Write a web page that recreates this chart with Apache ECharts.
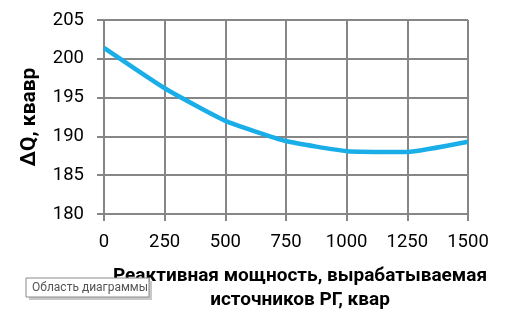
<!DOCTYPE html>
<html><head><meta charset="utf-8">
<script src="https://cdn.jsdelivr.net/npm/echarts@6/dist/echarts.min.js"></script>
<style>html,body{margin:0;padding:0;background:#fff}#c{width:511px;height:332px}</style>
</head><body><div id="c"></div>
<script>
const categories = [0, 250, 500, 750, 1000, 1250, 1500];
const deltaQ = [201.4, 196.2, 192.0, 189.4, 188.1, 188.0, 189.3];
const yTitle = 'ΔQ, квавр';
const xTitle = ['Реактивная мощность, вырабатываемая', 'источников РГ, квар'];
const tipText = 'Область диаграммы';

const FONT = 'Roboto';
const chart = echarts.init(document.getElementById('c'), null, {renderer: 'canvas'});
const gridC = '#868686';
chart.setOption({
  animation: false,
  grid: {left: 104, right: 43, top: 20, bottom: 118},
  xAxis: {
    type: 'value', min: 0, max: 1500, interval: 250,
    axisLine: {show: true, lineStyle: {color: gridC, width: 2}},
    axisTick: {show: true, length: 7, lineStyle: {color: gridC, width: 2}},
    splitLine: {show: true, lineStyle: {color: gridC, width: 2}},
    axisLabel: {color: '#000', fontFamily: FONT, fontSize: 18.5, margin: 19, formatter: v => String(v)}
  },
  yAxis: {
    type: 'value', min: 180, max: 205, interval: 5,
    name: yTitle, nameLocation: 'middle', nameGap: 64, nameRotate: 90,
    nameTextStyle: {color: '#000', fontFamily: FONT, fontSize: 21, fontWeight: 'bold'},
    axisLine: {show: true, lineStyle: {color: gridC, width: 2}},
    axisTick: {show: true, length: 7, lineStyle: {color: gridC, width: 2}},
    splitLine: {show: true, lineStyle: {color: gridC, width: 2}},
    axisLabel: {color: '#000', fontFamily: FONT, fontSize: 18.5, margin: 20}
  },
  series: [{
    type: 'line',
    data: categories.map((x, i) => [x, deltaQ[i]]),
    showSymbol: false, smooth: 0.15,
    lineStyle: {color: '#1AAEE8', width: 4.5}
  }],
  graphic: [
    {type: 'text', x: 300, y: 276, style: {text: xTitle[0], font: 'bold 19px ' + FONT, fill: '#000', textAlign: 'center', textVerticalAlign: 'middle'}},
    {type: 'text', x: 300, y: 300, style: {text: xTitle[1], font: 'bold 19px ' + FONT, fill: '#000', textAlign: 'center', textVerticalAlign: 'middle'}},
    {type: 'rect', shape: {x: 29, y: 281, width: 123, height: 19}, style: {fill: '#c8c8c8'}, z: 10},
    {type: 'rect', shape: {x: 26, y: 278, width: 123, height: 19}, style: {fill: '#fff', stroke: '#8a8a8a', lineWidth: 1}, z: 11},
    {type: 'text', x: 32, y: 287.5, z: 12, style: {text: tipText, font: '12px ' + FONT, fill: '#555', textVerticalAlign: 'middle'}}
  ]
});
</script></body></html>
